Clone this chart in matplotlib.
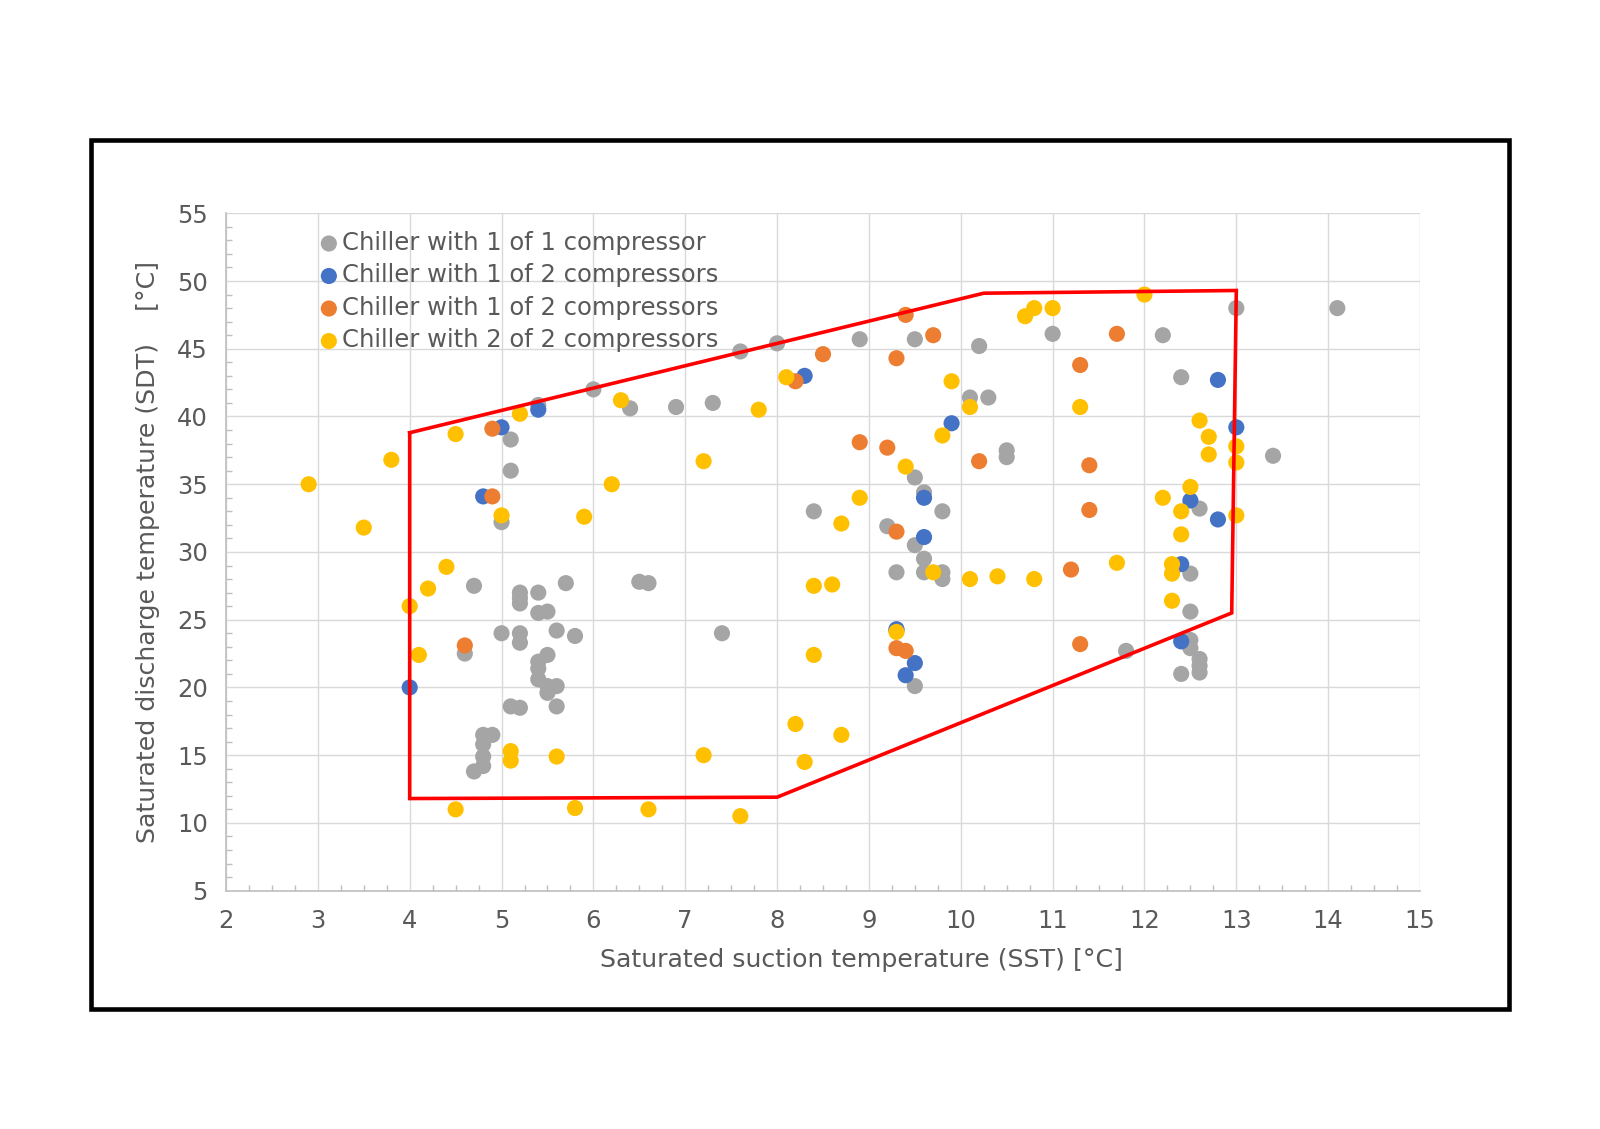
import matplotlib
matplotlib.use("Agg")
import matplotlib.pyplot as plt
from matplotlib.ticker import MultipleLocator
from matplotlib.patches import Rectangle

# Chiller with 1 of 1 compressor (grey)
one_of_one_sst = [6.0, 6.4, 6.9, 7.3, 7.6, 8.0, 8.9, 9.5, 10.2, 11.0, 12.2, 13.0, 14.1,
                  10.1, 10.3, 12.4, 10.5, 10.5, 13.4, 5.4, 5.1, 5.1, 5.0, 8.4, 9.2,
                  9.5, 9.6, 9.8, 9.5, 9.6, 9.3, 9.6, 9.8, 9.8, 12.6, 12.5, 12.5, 12.5,
                  12.5, 12.6, 12.6, 12.6, 12.4, 11.8, 4.7, 5.2, 5.2, 5.2, 5.4, 5.7,
                  6.5, 6.6, 5.4, 5.5, 5.0, 5.2, 5.2, 5.6, 5.8, 7.4, 4.6, 5.5, 5.4,
                  5.4, 5.4, 5.5, 5.5, 5.6, 5.1, 5.2, 5.6, 4.8, 4.9, 4.8, 4.8, 4.8,
                  4.7, 9.5, 9.3]
one_of_one_sdt = [42.0, 40.6, 40.7, 41.0, 44.8, 45.4, 45.7, 45.7, 45.2, 46.1, 46.0, 48.0, 48.0,
                  41.4, 41.4, 42.9, 37.5, 37.0, 37.1, 40.85, 38.3, 36.0, 32.2, 33.0, 31.9,
                  35.5, 34.4, 33.0, 30.5, 29.5, 28.5, 28.5, 28.5, 28.0, 33.2, 28.4, 25.6, 23.5,
                  22.9, 22.1, 21.6, 21.1, 21.0, 22.7, 27.5, 27.0, 26.6, 26.2, 27.0, 27.7,
                  27.8, 27.7, 25.5, 25.6, 24.0, 24.0, 23.3, 24.2, 23.8, 24.0, 22.5, 22.4, 21.9,
                  21.4, 20.6, 20.1, 19.6, 20.1, 18.6, 18.5, 18.6, 16.5, 16.5, 15.8, 14.9, 14.2,
                  13.8, 20.1, 24.2]

# Chiller with 1 of 2 compressors (blue)
blue_sst = [8.3, 12.8, 5.0, 5.4, 9.9, 13.0, 4.8, 9.6, 12.5, 12.8, 9.6, 12.4, 12.4,
            9.5, 9.4, 4.0, 9.3]
blue_sdt = [43.0, 42.7, 39.2, 40.5, 39.5, 39.2, 34.1, 34.0, 33.8, 32.4, 31.1, 29.1, 23.4,
            21.8, 20.9, 20.0, 24.3]

# Chiller with 1 of 2 compressors (orange)
orange_sst = [9.4, 9.7, 11.7, 8.5, 9.3, 8.2, 11.3, 4.9, 8.9, 9.2, 10.2, 11.4, 4.9,
              9.3, 11.4, 11.2, 4.6, 9.3, 9.4, 11.3]
orange_sdt = [47.5, 46.0, 46.1, 44.6, 44.3, 42.6, 43.8, 39.1, 38.1, 37.7, 36.7, 36.4, 34.1,
              31.5, 33.1, 28.7, 23.1, 22.9, 22.7, 23.2]

# Chiller with 2 of 2 compressors (yellow)
two_of_two_sst = [2.9, 3.5, 3.8, 4.5, 5.2, 6.3, 8.1, 7.8, 7.2, 6.2, 5.9, 5.0, 4.4, 4.2,
                  4.0, 4.1, 5.1, 5.1, 5.6, 4.5, 5.8, 6.6, 7.6, 7.2, 8.2, 8.7, 8.3, 8.4,
                  8.4, 8.6, 8.7, 8.9, 9.4, 9.8, 9.9, 10.1, 9.7, 10.1, 10.4, 10.8, 11.7,
                  10.7, 10.8, 11.0, 12.0, 11.3, 12.6, 12.7, 12.7, 13.0, 13.0, 12.5, 12.2,
                  12.4, 12.4, 13.0, 12.3, 12.3, 12.3, 9.3]
two_of_two_sdt = [35.0, 31.8, 36.8, 38.7, 40.2, 41.2, 42.9, 40.5, 36.7, 35.0, 32.6, 32.7, 28.9, 27.3,
                  26.0, 22.4, 15.3, 14.6, 14.9, 11.0, 11.1, 11.0, 10.5, 15.0, 17.3, 16.5, 14.5, 22.4,
                  27.5, 27.6, 32.1, 34.0, 36.3, 38.6, 42.6, 40.7, 28.5, 28.0, 28.2, 28.0, 29.2,
                  47.4, 48.0, 48.0, 49.0, 40.7, 39.7, 38.5, 37.2, 37.8, 36.6, 34.8, 34.0,
                  33.0, 31.3, 32.7, 29.1, 28.4, 26.4, 24.1]

# operating envelope (red)
envelope_sst = [4.0, 10.25, 13.0, 12.95, 8.0, 4.0, 4.0]
envelope_sdt = [38.8, 49.1, 49.3, 25.5, 11.9, 11.8, 38.8]

series = [
    (one_of_one_sst, one_of_one_sdt, "#A5A5A5", "Chiller with 1 of 1 compressor"),
    (blue_sst, blue_sdt, "#4472C4", "Chiller with 1 of 2 compressors"),
    (orange_sst, orange_sdt, "#ED7D31", "Chiller with 1 of 2 compressors"),
    (two_of_two_sst, two_of_two_sdt, "#FFC000", "Chiller with 2 of 2 compressors"),
]

text_col = "#595959"
plt.rcParams["font.family"] = ["DejaVu Sans"]

fig = plt.figure(figsize=(16, 11.29), dpi=100)
ax = fig.add_axes([0.14125, 0.2111, 0.74625, 0.6000])

for i, (xs, ys, col, lab) in enumerate(series):
    ax.scatter(xs, ys, s=135, color=col, edgecolors="none", label=lab, zorder=3 + i)

ax.plot(envelope_sst, envelope_sdt, color="#FF0000", lw=2.6, zorder=10, solid_joinstyle="miter")

ax.set_xlim(2, 15)
ax.set_ylim(5, 55)
ax.xaxis.set_major_locator(MultipleLocator(1))
ax.xaxis.set_minor_locator(MultipleLocator(0.25))
ax.yaxis.set_major_locator(MultipleLocator(5))
ax.yaxis.set_minor_locator(MultipleLocator(1))
ax.grid(True, which="major", color="#D9D9D9", lw=1.0, zorder=0)
ax.set_axisbelow(True)

for side in ["top", "right"]:
    ax.spines[side].set_visible(False)
for side in ["left", "bottom"]:
    ax.spines[side].set_color("#BFBFBF")
    ax.spines[side].set_linewidth(1.2)

ax.tick_params(which="major", length=0, pad=13, labelsize=17.5, labelcolor=text_col)
ax.tick_params(which="minor", direction="in", length=4, width=1, color="#BFBFBF")

ax.set_xlabel("Saturated suction temperature (SST) [°C]", fontsize=18.2, color=text_col)
ax.xaxis.set_label_coords(0.532, -0.085)
ax.set_ylabel("Saturated discharge temperature (SDT)    [°C]", fontsize=18.2, color=text_col, labelpad=12)

ax.legend(loc="upper left", bbox_to_anchor=(0.078, 0.974), frameon=False, fontsize=17.5,
          labelcolor=text_col, handlelength=0.8, handletextpad=0.15, labelspacing=0.35,
          borderaxespad=0, borderpad=0, scatterpoints=1, markerscale=1.0)

# black frame around the chart
fig.patches.append(Rectangle((0.0566, 0.1063), 0.8864, 0.7701, transform=fig.transFigure,
                             fill=False, edgecolor="black", lw=3.3))

fig.savefig("out.png", dpi=100)
